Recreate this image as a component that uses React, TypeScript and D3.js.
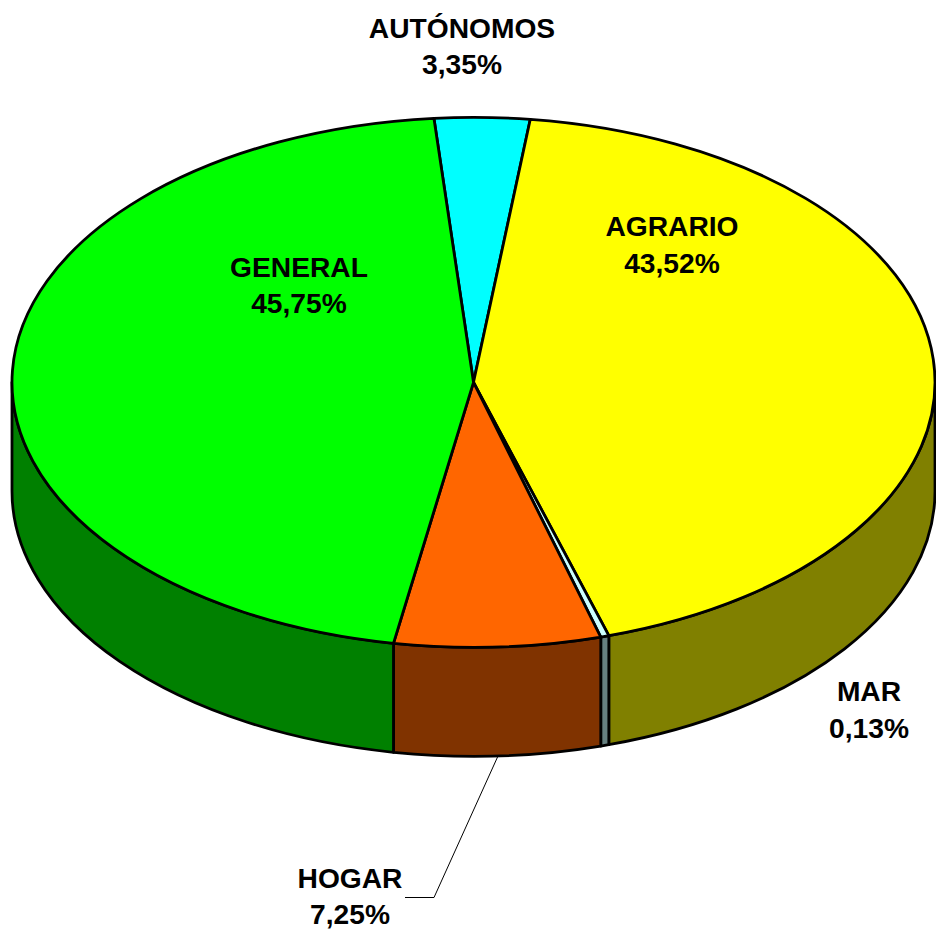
import React from "react";
import * as d3 from "d3";

const categories = ["AUTÓNOMOS", "AGRARIO", "MAR", "HOGAR", "GENERAL"];
const valueLabels = ["3,35%", "43,52%", "0,13%", "7,25%", "45,75%"];
// Slice shares as drawn in the picture (the thinnest slice is drawn wider than its label)
const drawnShares = [3.33, 43.3, 0.29, 7.22, 45.86];
const topColors = ["#00ffff", "#ffff00", "#ccffff", "#ff6600", "#00ff00"];
const wallColors = ["#008080", "#808000", "#668080", "#803300", "#008000"];
const labelX = [462, 672, 869, 350, 299];
const labelY = [37.5, 236, 701, 887.5, 276.5];

const W = 936, H = 929;
const cx = 473.5, cy = 382.3, rx = 461.5, ry = 265, depth = 109;
const STROKE = 2.8;
const START = (-4.92 * Math.PI) / 180;

const pt = (a: number, dy = 0): [number, number] => [cx + rx * Math.sin(a), cy - ry * Math.cos(a) + dy];

const pieGen = d3.pie<number>().sort(null).value((d) => d).startAngle(START).endAngle(START + 2 * Math.PI);
const arcs = pieGen(drawnShares);

const topPath = (a0: number, a1: number) => {
  const p0 = pt(a0), p1 = pt(a1);
  const large = a1 - a0 > Math.PI ? 1 : 0;
  return `M${cx},${cy}L${p0[0]},${p0[1]}A${rx},${ry} 0 ${large} 1 ${p1[0]},${p1[1]}Z`;
};

const wallPath = (a0: number, a1: number) => {
  const s = Math.max(a0, Math.PI / 2), e = Math.min(a1, (3 * Math.PI) / 2);
  if (e <= s) return null;
  const t0 = pt(s), t1 = pt(e), b0 = pt(s, depth), b1 = pt(e, depth);
  return `M${t0[0]},${t0[1]}A${rx},${ry} 0 0 1 ${t1[0]},${t1[1]}L${b1[0]},${b1[1]}A${rx},${ry} 0 0 0 ${b0[0]},${b0[1]}Z`;
};

const leader = d3.line()([[498, 756], [434, 897.5], [405, 897.5]]) as string;

export default function App() {
  return (
    <svg
      width={W}
      height={H}
      viewBox={`0 0 ${W} ${H}`}
      style={{ position: "absolute", left: 0, top: 0, background: "#fff" }}
      fontFamily="'Liberation Sans', Arial, sans-serif"
    >
      {arcs.map((d, i) => {
        const w = wallPath(d.startAngle, d.endAngle);
        return w ? <path key={i} d={w} fill={wallColors[i]} stroke="#000" strokeWidth={STROKE} strokeLinejoin="round" /> : null;
      })}
      {arcs.map((d, i) => (
        <path key={i} d={topPath(d.startAngle, d.endAngle)} fill={topColors[i]} stroke="#000" strokeWidth={STROKE} strokeLinejoin="round" />
      ))}
      <path d={leader} fill="none" stroke="#000" strokeWidth={1} />
      {categories.map((c, i) => (
        <text key={c} x={labelX[i]} y={labelY[i]} textAnchor="middle" fontSize={28.2} fontWeight="bold" fill="#000">
          <tspan x={labelX[i]}>{c}</tspan>
          <tspan x={labelX[i]} dy={36.8}>{valueLabels[i]}</tspan>
        </text>
      ))}
    </svg>
  );
}
